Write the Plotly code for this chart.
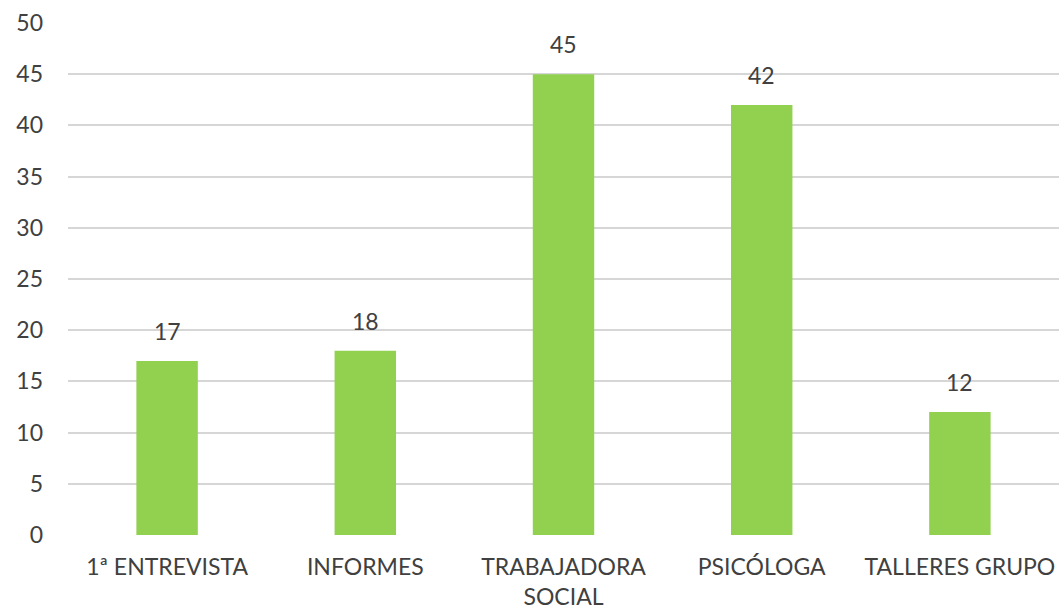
import plotly.graph_objects as go

categories = ["1ª ENTREVISTA", "INFORMES", "TRABAJADORA<br>SOCIAL", "PSICÓLOGA", "TALLERES GRUPO"]
values = [17, 18, 45, 42, 12]
y_ticks = [0, 5, 10, 15, 20, 25, 30, 35, 40, 45, 50]

FONT = "Lato"
TXT = "#404040"

fig = go.Figure(go.Bar(
    x=categories, y=values,
    marker=dict(color="#92D050", line=dict(width=0)),
    cliponaxis=False,
))
for c, v in zip(categories, values):
    fig.add_annotation(x=c, y=v, text=str(v), showarrow=False, yanchor="bottom",
                       yshift=14, font=dict(family=FONT, size=23, color=TXT))
fig.update_layout(
    width=1059, height=612,
    margin=dict(l=68, r=0, t=23, b=77),
    paper_bgcolor="white", plot_bgcolor="white",
    bargap=0.69, showlegend=False,
    font=dict(family=FONT, size=23, color=TXT),
)
fig.update_xaxes(showline=False, ticks="", automargin=False,
                 tickfont=dict(family=FONT, size=23, color=TXT), ticklabelstandoff=16)
fig.update_yaxes(range=[0, 50], tickvals=y_ticks, showgrid=True, gridcolor="#d6d6d6", gridwidth=1.5,
                 zeroline=False, showline=False, ticks="", automargin=False,
                 tickfont=dict(family=FONT, size=23, color=TXT), ticklabelstandoff=24)
fig.write_html("out.html", config={"displayModeBar": False},
               post_script="document.body.style.margin='0';document.body.style.overflow='hidden';")
